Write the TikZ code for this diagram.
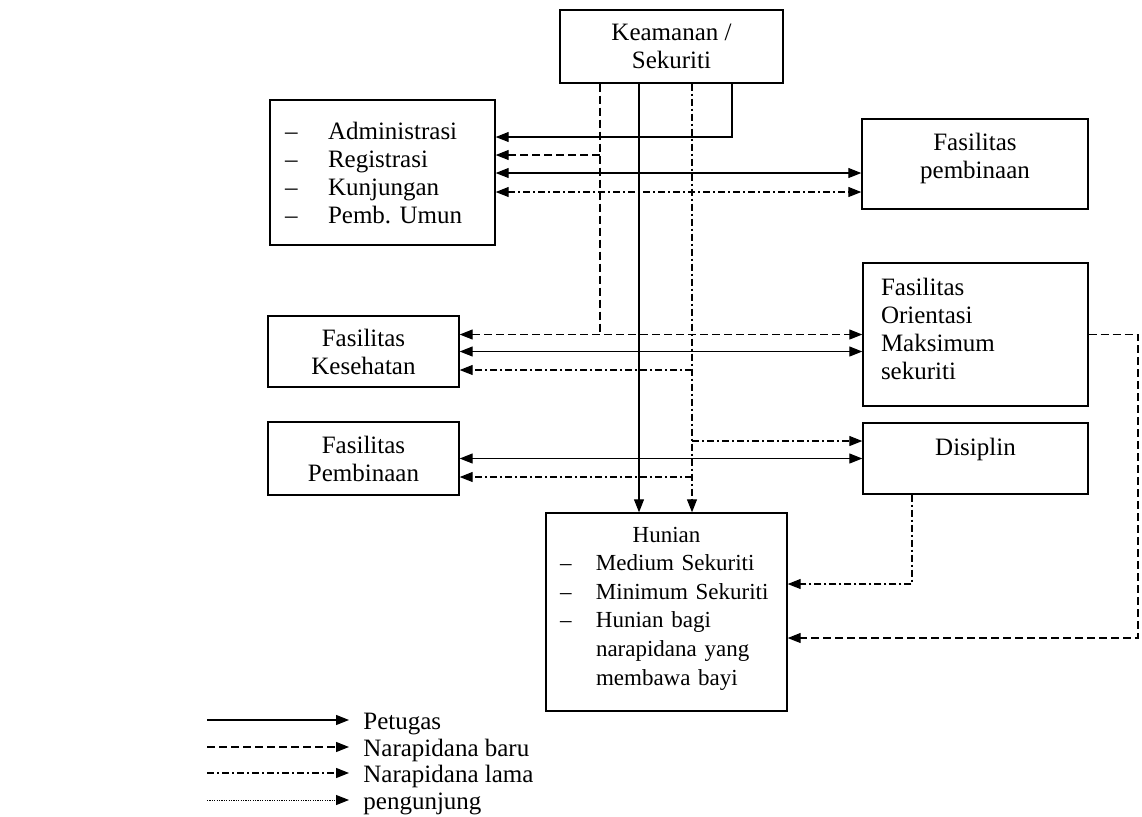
\documentclass[tikz,border=0pt]{standalone}
\usepackage{fontspec}
\setmainfont{Liberation Serif}
\usetikzlibrary{arrows.meta}
\newcommand{\butir}[2][21.5pt]{\makebox[#1][l]{\textendash}#2}

\begin{document}
\begin{tikzpicture}[x=0.5pt,y=-0.5pt,font=\fontsize{12.5}{14}\selectfont,
  >={Triangle[length=6.5pt,width=5pt]},
  box/.style={draw,line width=0.7pt,inner sep=0pt},
  petugas/.style={line width=0.6pt},
  baru/.style={line width=0.6pt,dash pattern=on 4pt off 2pt},
  lama/.style={line width=0.6pt,dash pattern=on 3.5pt off 1.5pt on 1pt off 1.5pt},
  kunjung/.style={line width=0.5pt,dash pattern=on 0.6pt off 0.6pt}]
  \useasboundingbox (0,0) rectangle (1142,816);

  \node[box,minimum width=111.5pt,minimum height=36.5pt,align=center] (keam) at (671.5,46.5) {Keamanan /\\Sekuriti};
  \node[box,text width=97.5pt,inner xsep=7.5pt,minimum height=72.5pt,align=left] (adm) at (382.5,172.5)
    {\butir{Administrasi}\\\butir{Registrasi}\\\butir{Kunjungan}\\\butir{Pemb.\ Umun}};
  \node[box,minimum width=113pt,minimum height=45pt,align=center,text depth=8pt] (fpemb) at (975,164) {Fasilitas\\pembinaan};
  \node[box,minimum width=95.5pt,minimum height=35.5pt,align=center] (kes) at (363.5,351.5) {Fasilitas\\Kesehatan};
  \node[box,minimum width=95.5pt,minimum height=36.5pt,align=center] (pemb) at (363.5,458.5) {Fasilitas\\Pembinaan};
  \node[box,text width=94.5pt,inner xsep=9pt,minimum height=71.5pt,text height=10pt,text depth=49.5pt,align=left]
    (orient) at (975.5,334.5) {Fasilitas\\Orientasi\\Maksimum\\sekuriti};
  \node[box,minimum width=112.5pt,minimum height=35.5pt,text height=9pt,text depth=12.5pt] (disip) at (975.5,458.5) {Disiplin};
  \node[box,text width=106.5pt,inner xsep=7pt,minimum height=99pt,text height=8.5pt,text depth=78.5pt,align=left,
    font=\fontsize{11.5}{14.3}\selectfont] (hun) at (666.5,612)
    {\makebox[106.5pt]{Hunian}\\\butir[18pt]{Medium Sekuriti}\\\butir[18pt]{Minimum Sekuriti}\\
     \butir[18pt]{Hunian bagi}\\\hspace*{18pt}narapidana yang\\\hspace*{18pt}membawa bayi};

  \coordinate (vd) at (600,0);
  \coordinate (vs) at (639,0);
  \coordinate (vl) at (692,0);
  \coordinate (va) at (732,137);
  \coordinate (r2) at (0,155);
  \coordinate (r3) at (0,173);
  \coordinate (r4) at (0,192);
  \coordinate (k3) at (0,370);
  \coordinate (p1) at (0,441);
  \coordinate (p3) at (0,477);
  \coordinate (dl) at (912,584);
  \coordinate (ol) at (1138,638);

  \draw[petugas,->] (keam.south -| va) -- (va) -- (adm.east |- va);
  \draw[petugas,->] (keam.south -| vs) -- (hun.north -| vs);
  \draw[baru] (keam.south -| vd) -- (vd |- orient.west);
  \draw[baru,->] (vd |- r2) -- (adm.east |- r2);
  \draw[lama,->] (keam.south -| vl) -- (hun.north -| vl);

  \draw[petugas,<->] (adm.east |- r3) -- (fpemb.west |- r3);
  \draw[lama,<->] (adm.east |- r4) -- (fpemb.west |- r4);

  \draw[baru,<->] (kes.east |- orient.west) -- (orient.west);
  \draw[petugas,<->] (kes.east) -- (orient.west |- kes.east);
  \draw[lama,->] (vl |- k3) -- (kes.east |- k3);

  \draw[lama,->] (vl |- p1) -- (disip.west |- p1);
  \draw[petugas,<->] (pemb.east) -- (disip.west |- pemb.east);
  \draw[lama,->] (vl |- p3) -- (pemb.east |- p3);

  \draw[lama,->] (disip.south -| dl) -- (dl) -- (hun.east |- dl);
  \draw[baru,->] (orient.east) -| (ol) -- (hun.east |- ol);

  \foreach \y/\s/\t [count=\i] in {720/petugas/Petugas,747/baru/Narapidana baru,773/lama/Narapidana lama,800/kunjung/pengunjung} {
    \node[anchor=west,inner xsep=7pt,inner ysep=0pt,text height=9pt,text depth=0pt] (ket\i) at (349,\y) {\t};
    \coordinate (ka\i) at (207,\y);
    \draw[\s,->] (ka\i) -- (ket\i.west);
  }
\end{tikzpicture}
\end{document}
